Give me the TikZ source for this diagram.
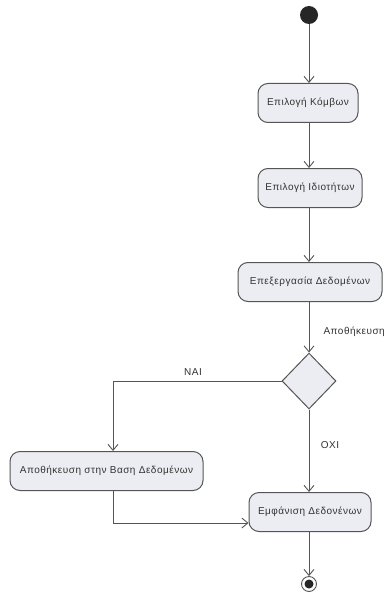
\documentclass[tikz,border=0pt]{standalone}
\usepackage{fontspec}
\setmainfont{Liberation Sans}[LetterSpace=5]
\usetikzlibrary{arrows.meta,shapes.geometric,calc}
\definecolor{edgegray}{HTML}{555555}
\definecolor{boxfill}{HTML}{ECEDF2}
\definecolor{txtgray}{HTML}{333333}
\tikzset{
  activity/.style={draw=edgegray, fill=boxfill, line width=1pt, rounded corners=10pt,
    minimum height=39pt, inner sep=2pt, font=\fontsize{10}{11}\selectfont, text=txtgray},
  choice/.style={diamond, draw=edgegray, fill=boxfill, line width=1pt, minimum width=54pt,
    minimum height=56pt, inner sep=0pt, aspect=1},
  flow/.style={draw=edgegray, line width=0.9pt, -{Straight Barb[length=6pt,width=10pt]}},
  guard/.style={font=\fontsize{10}{11}\selectfont, text=txtgray},
}
\begin{document}
\begin{tikzpicture}[x=1pt,y=-1pt]
  \path[use as bounding box, fill=white] (0,0) rectangle (388,596);

  % initial and final states
  \node[circle, fill=black!85, minimum size=18pt, inner sep=0pt] (start) at (309,15) {};
  \node[circle, draw=edgegray, line width=0.9pt, fill=white, minimum size=15pt, inner sep=0pt] (stop) at (309,584) {};
  \node[circle, fill=black!85, minimum size=9pt, inner sep=0pt] (stopdot) at (stop.center) {};

  % activities
  \node[activity, minimum width=100pt] (n1) at (308,103) {Επιλογή Κόμβων};
  \node[activity, minimum width=104pt] (n2) at (310,188) {Επιλογή Ιδιοτήτων};
  \node[activity, minimum width=144pt] (n3) at (310,282) {Επεξεργασία Δεδομένων};
  \node[choice] (dec) at (309,381) {};
  \node[activity, minimum width=193pt] (n4) at (106.5,471) {Αποθήκευση στην Βαση Δεδομένων};
  \node[activity, minimum width=122pt] (n5) at (310,512) {Εμφάνιση Δεδονένων};

  % bends of the side branch
  \coordinate (yesbend) at (113,381);
  \coordinate (joinbend) at (113,523);
  \coordinate (spine) at (309,0);

  % transitions
  \draw[flow] (start) -- (spine |- n1.north);
  \draw[flow] (spine |- n1.south) -- (spine |- n2.north);
  \draw[flow] (spine |- n2.south) -- (spine |- n3.north);
  \draw[flow] (spine |- n3.south) -- (dec);
  \draw[flow] (dec.west) -- (yesbend) -- (yesbend |- n4.north);
  \draw[flow] (dec.south) -- (spine |- n5.north);
  \draw[flow] (joinbend |- n4.south) -- (joinbend) -- (joinbend -| n5.west);
  \draw[flow] (spine |- n5.south) -- (stop);

  % guards
  \node[guard, anchor=west] (lblsave) at (320,332) {Αποθήκευση};
  \node[guard] (lblyes) at (193,372) {ΝΑΙ};
  \node[guard] (lblno) at (330,445) {ΟΧΙ};
\end{tikzpicture}
\end{document}
